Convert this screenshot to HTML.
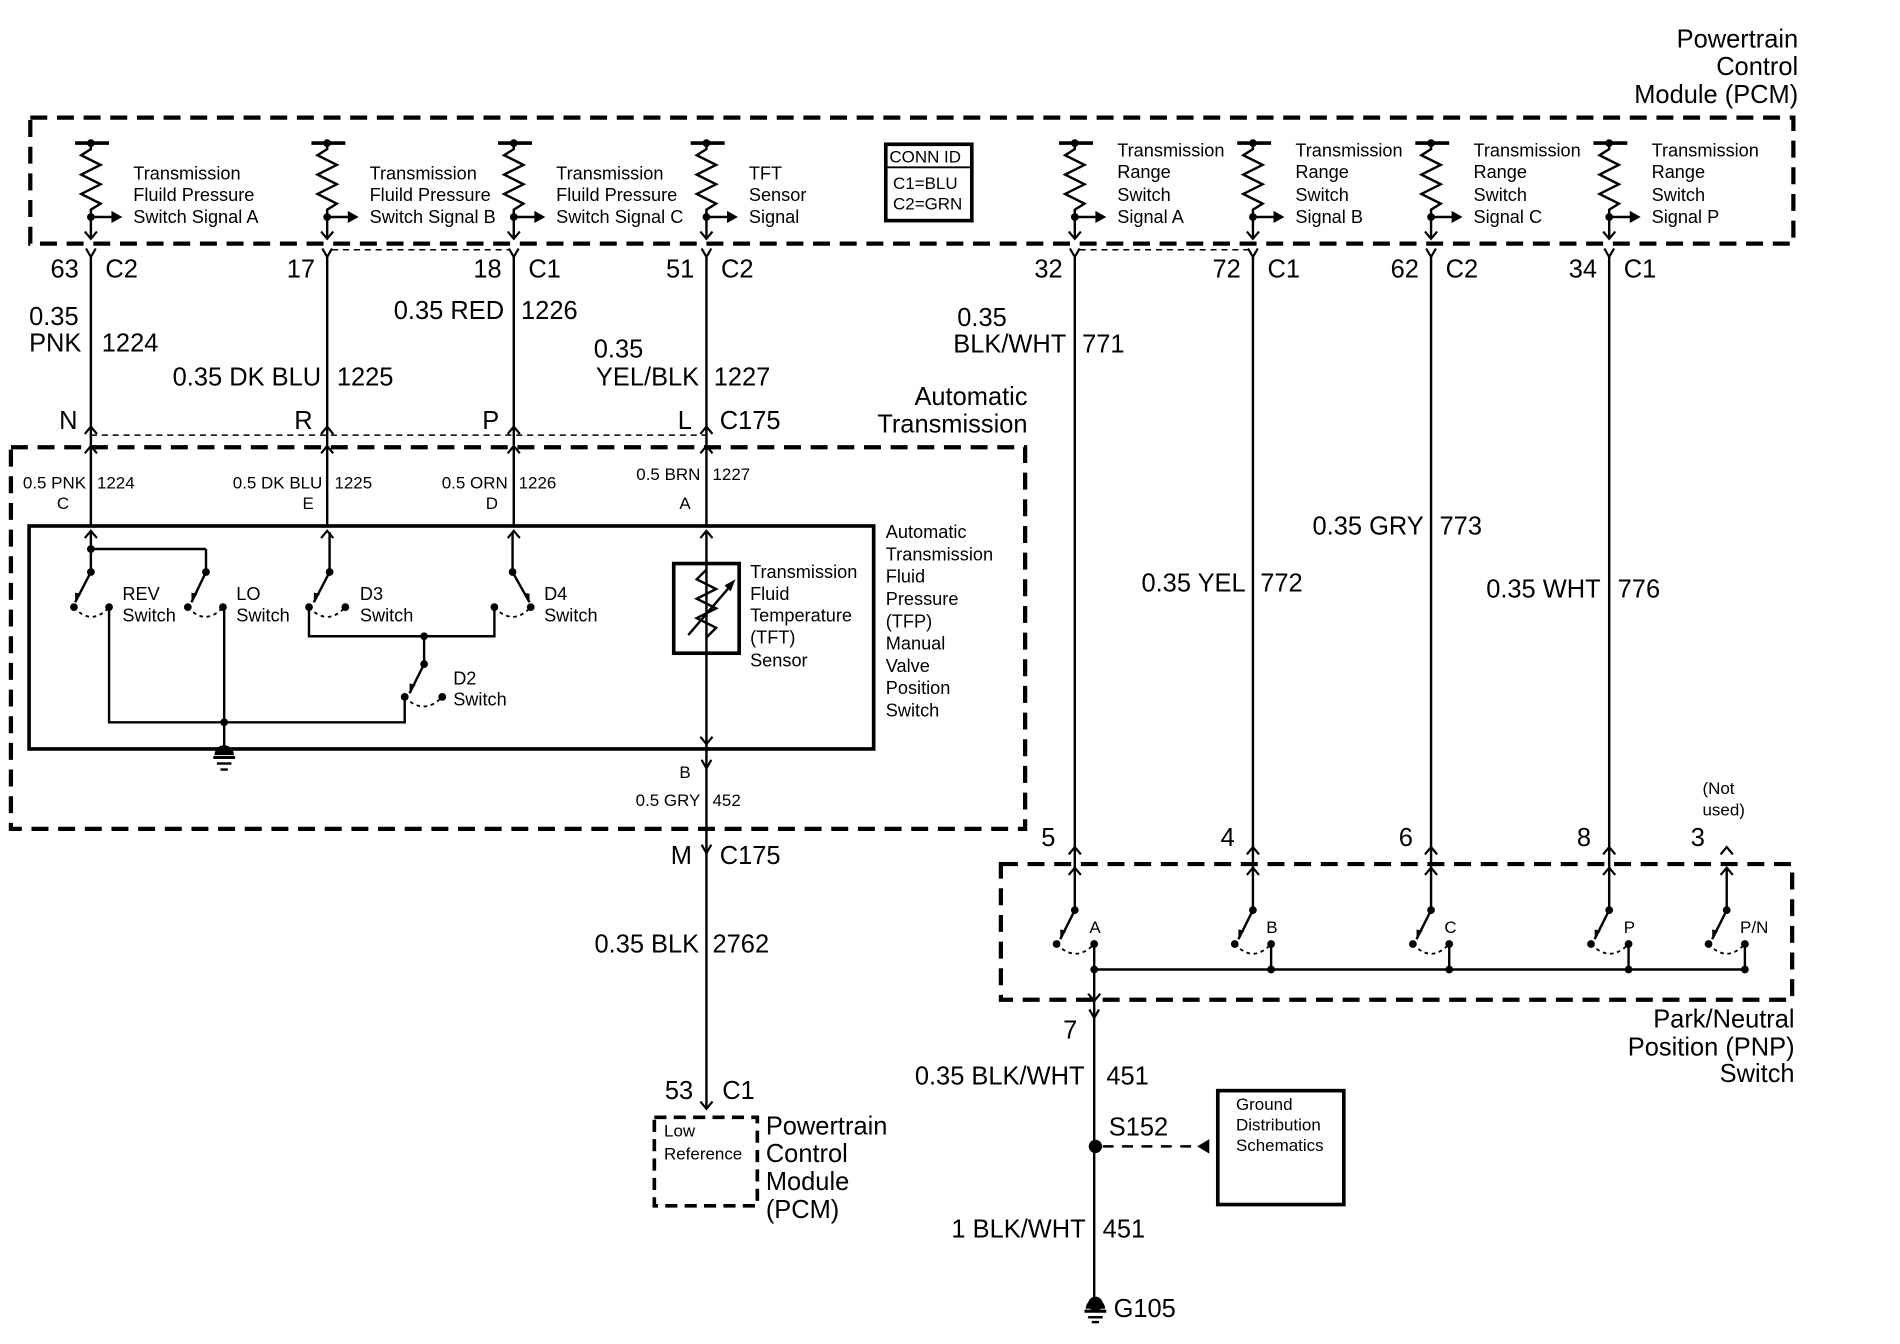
<!DOCTYPE html>
<html><head><meta charset="utf-8"><style>
html,body{margin:0;padding:0;background:#fff;}
svg{display:block;}
text{font-family:"Liberation Sans",Arial,sans-serif;fill:#000;}
</style></head><body>
<svg id="s" width="1900" height="1344" viewBox="0 0 1568 1109" xmlns="http://www.w3.org/2000/svg"></svg>
<script>
let o='';
const L=(a,b,c,d,w=2)=>o+=`<line x1="${a}" y1="${b}" x2="${c}" y2="${d}" stroke="#000" stroke-width="${w}"/>`;
const D=(x,y,r=3.2)=>o+=`<circle cx="${x}" cy="${y}" r="${r}" fill="#000"/>`;
const T=(x,y,s,sz=21,a='start')=>o+=`<text x="${x}" y="${y}" font-size="${sz}" text-anchor="${a}">${s}</text>`;
const P=(pts,w=2,f='none')=>o+=`<polyline points="${pts}" fill="${f}" stroke="#000" stroke-width="${w}"/>`;
const R=(x,y,w,h,sw=3,dash='')=>o+=`<rect x="${x}" y="${y}" width="${w}" height="${h}" fill="none" stroke="#000" stroke-width="${sw}" ${dash?`stroke-dasharray="${dash}"`:''}/>`;
const Yc=(x,y)=>P(`${x-4},${y} ${x},${y+7} ${x+4},${y}`,1.8);   // fork opening up
const Up=(x,y)=>P(`${x-5},${y+6} ${x},${y} ${x+5},${y+6}`,1.8);
const Dn=(x,y)=>P(`${x-5},${y-6} ${x},${y} ${x+5},${y-6}`,1.8);
const arc=(x1,x2,y)=>o+=`<path d="M${x1},${y} Q${(x1+x2)/2},${y+16} ${x2},${y}" fill="none" stroke="#000" stroke-width="1.5" stroke-dasharray="3 3"/>`;

// PCM title
T(1484,39,'Powertrain',21,'end');T(1484,62,'Control',21,'end');T(1484,85,'Module (PCM)',21,'end');
R(25,97,1455,104,3.5,'14 8');
// CONN ID
R(731,119,71,63,3);L(731,138,802,138,1.5);
T(734,134,'CONN ID',14);T(737,156,'C1=BLU',14);T(737,173,'C2=GRN',14);

const pins=[
 [75,['Transmission','Fluild Pressure','Switch Signal A'],'63','C2'],
 [270,['Transmission','Fluild Pressure','Switch Signal B'],'17',''],
 [424,['Transmission','Fluild Pressure','Switch Signal C'],'18','C1'],
 [583,['TFT','Sensor','Signal'],'51','C2'],
 [887,['Transmission','Range','Switch','Signal A'],'32',''],
 [1034,['Transmission','Range','Switch','Signal B'],'72','C1'],
 [1181,['Transmission','Range','Switch','Signal C'],'62','C2'],
 [1328,['Transmission','Range','Switch','Signal P'],'34','C1'],
];
for(const [x,lines,n,c] of pins){
 L(x-13,118,x+15,118,3);D(x,118);
 P(`${x},118 ${x},123 ${x-8},128 ${x+8},136 ${x-8},144 ${x+8},152 ${x-8},160 ${x+8},168 ${x},173 ${x},197`,2);
 D(x,179);L(x,179,x+18,179);o+=`<polygon points="${x+17},174 ${x+26},179 ${x+17},184" fill="#000"/>`;
 Dn(x,197);
 Yc(x,205);
 const ys=lines.length==3?[148,166,184]:[129,147,166,184];
 lines.forEach((t,i)=>T(x+35,ys[i],t,15));
 T(x-10,229,n,21,'end'); if(c)T(x+12,229,c,21);
}
o+=`<line x1="274" y1="206" x2="420" y2="206" stroke="#000" stroke-width="1.2" stroke-dasharray="5 4"/>`;
o+=`<line x1="891" y1="206" x2="1030" y2="206" stroke="#000" stroke-width="1.2" stroke-dasharray="5 4"/>`;
// left wires top section
for(const x of [75,270,424,583]) L(x,212,x,355);
T(24,268,'0.35');T(24,290,'PNK');T(84,290,'1224');
T(265,318,'0.35 DK BLU',21,'end');T(278,318,'1225');
T(416,263,'0.35 RED',21,'end');T(430,263,'1226');
T(490,295,'0.35');T(577,318,'YEL/BLK',21,'end');T(589,318,'1227');
T(64,354,'N',21,'end');T(258,354,'R',21,'end');T(412,354,'P',21,'end');T(571,354,'L',21,'end');T(594,354,'C175');
T(848,334,'Automatic',21,'end');T(848,357,'Transmission',21,'end');
o+=`<line x1="75" y1="359" x2="583" y2="359" stroke="#000" stroke-width="1.2" stroke-dasharray="5 4"/>`;
for(const x of [75,270,424,583]){Up(x,352);L(x,352,x,434);Up(x,368);Up(x,438);}
// Auto trans box
R(9,369,837,315,3.5,'14 8');
T(71,403,'0.5 PNK',14,'end');T(80,403,'1224',14);T(57,420,'C',14,'end');
T(266,403,'0.5 DK BLU',14,'end');T(276,403,'1225',14);T(259,420,'E',14,'end');
T(419,403,'0.5 ORN',14,'end');T(428,403,'1226',14);T(411,420,'D',14,'end');
T(578,396,'0.5 BRN',14,'end');T(588,396,'1227',14);T(570,420,'A',14,'end');
R(24,434,697,184,3);
// switches inside
L(75,439,75,472);D(75,453);L(75,453,170,453);L(170,453,170,472);
function sw(px,py,ex,ey,ldx,rdx,dy){D(px,py);L(px,py,ex,ey,2);o+=`<polygon points="${ex},${ey} ${ex+(px>ex?0:-5)},${ey-8} ${ex+(px>ex?5:0)},${ey-7}" fill="#000"/>`;D(ldx,dy);D(rdx,dy);arc(ldx,rdx,dy);}
sw(75,472,62,497,61,90,501);
sw(170,472,158,497,155,184,501);
L(272,439,272,472);sw(272,472,259,497,255,285,501);
L(423,439,423,472);sw(423,472,437,497,408,438,501);
T(101,495,'REV',15);T(101,513,'Switch',15);
T(195,495,'LO',15);T(195,513,'Switch',15);
T(297,495,'D3',15);T(297,513,'Switch',15);
T(449,495,'D4',15);T(449,513,'Switch',15);
P('255,501 255,525 408,525 408,501',2);D(350,525);L(350,525,350,548);
sw(350,548,338,572,334,365,575);
T(374,565,'D2',15);T(374,582,'Switch',15);
P('90,501 90,596 334,596 334,575',2);L(185,501,185,618);D(185,596);
// ground inside
o+=`<path d="M177,623 A8,8 0 0 1 193,623 Z" fill="#000"/>`;L(176,625,194,625,2.5);L(179,630,191,630,2);L(182,635,188,635,2);L(185,618,185,623);
// TFT sensor
L(583,438,583,700);R(556,465,54,74,3);
P('583,470 575,478 591,486 575,494 591,502 575,510 591,518 583,526',2);
L(568,524,604,482,2);o+=`<polygon points="607,478 598,483 603,488" fill="#000"/>`;
Dn(583,614);Yc(583,627);
T(619,477,'Transmission',15);T(619,495,'Fluid',15);T(619,513,'Temperature',15);T(619,531,'(TFT)',15);T(619,550,'Sensor',15);
['Automatic','Transmission','Fluid','Pressure','(TFP)','Manual','Valve','Position','Switch'].forEach((t,i)=>T(731,444+i*18.4,t,15));
T(570,642,'B',14,'end');T(578,665,'0.5 GRY',14,'end');T(588,665,'452',14);
Yc(583,697);L(583,700,583,915);
T(571,713,'M',21,'end');T(594,713,'C175');
T(577,786,'0.35 BLK',21,'end');T(588,786,'2762');
T(572,907,'53',21,'end');T(596,907,'C1');Dn(583,915);
R(540,922,85,73,3,'10 6');T(548,938,'Low',14);T(548,957,'Reference',14);
T(632,936,'Powertrain');T(632,959,'Control');T(632,982,'Module');T(632,1005,'(PCM)');
// right wires
for(const x of [887,1034,1181,1328]){L(x,212,x,751);Up(x,699);Up(x,716);}
T(790,269,'0.35');T(880,291,'BLK/WHT',21,'end');T(893,291,'771');
T(1175,441,'0.35 GRY',21,'end');T(1188,441,'773');
T(1028,488,'0.35 YEL',21,'end');T(1040,488,'772');
T(1321,493,'0.35 WHT',21,'end');T(1335,493,'776');
T(871,698,'5',21,'end');T(1019,698,'4',21,'end');T(1166,698,'6',21,'end');T(1313,698,'8',21,'end');T(1407,698,'3',21,'end');
T(1405,655,'(Not',14);T(1405,673,'used)',14);
Up(1425,699);Up(1425,716);L(1425,716,1425,751);
R(826,713,653,112,3.5,'14 8');
const pn=[[887,903,'A'],[1034,1049,'B'],[1181,1196,'C'],[1328,1344,'P'],[1425,1440,'P/N']];
for(const [x,r,l] of pn){sw(x,751,x-12,775,x-15,r,779);L(r,779,r,800);D(r,800);T(r-4,770,l,14);}
L(903,800,1440,800);
L(903,800,903,1075);Dn(903,826);Yc(903,833);
T(889,857,'7',21,'end');
T(895,895,'0.35 BLK/WHT',21,'end');T(913,895,'451');
T(915,937,'S152');D(904,946,5.5);
o+=`<line x1="910" y1="946" x2="990" y2="946" stroke="#000" stroke-width="2" stroke-dasharray="9 7"/>`;
o+=`<polygon points="988,946 998,940 998,952" fill="#000"/>`;
R(1005,900,104,94,3);T(1020,916,'Ground',14);T(1020,933,'Distribution',14);T(1020,950,'Schematics',14);
T(896,1021,'1 BLK/WHT',21,'end');T(910,1021,'451');
o+=`<path d="M896,1080 A8,8 0 0 1 912,1080 Z" fill="#000"/>`;D(904,1076,6);L(895,1082,913,1082,2.5);L(898,1087,910,1087,2);L(901,1091,907,1091,2);
T(919,1087,'G105');
T(1481,848,'Park/Neutral',21,'end');T(1481,871,'Position (PNP)',21,'end');T(1481,893,'Switch',21,'end');
document.getElementById('s').innerHTML=o;
</script>
</body></html>
